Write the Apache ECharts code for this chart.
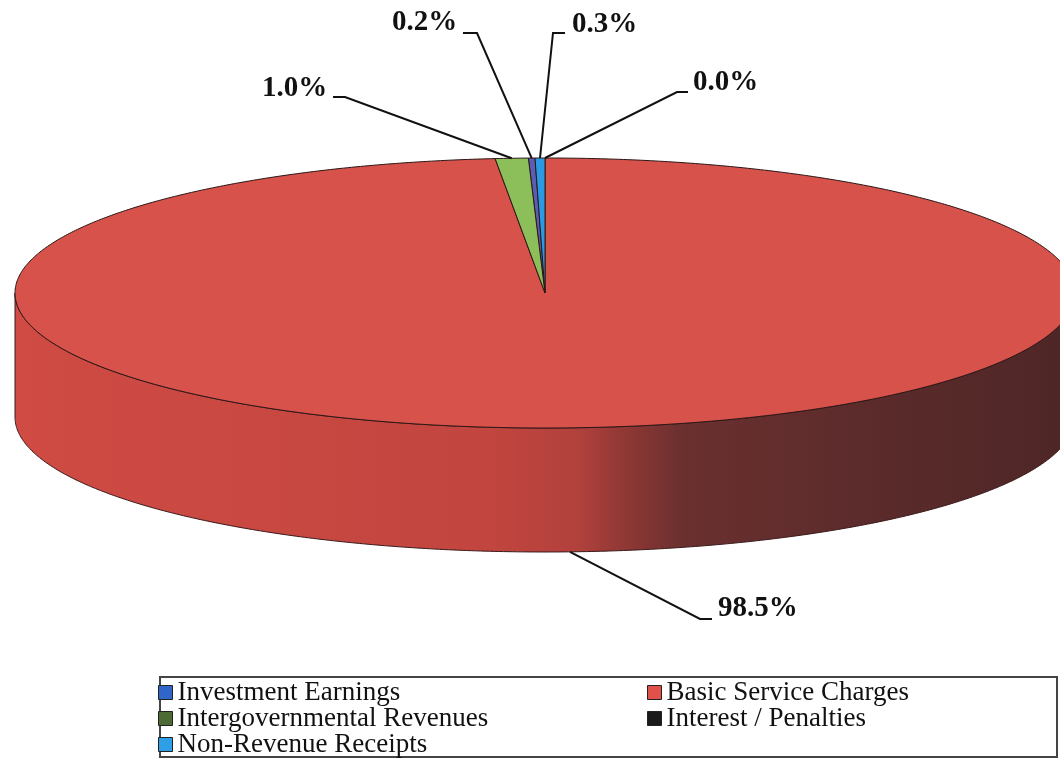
<!DOCTYPE html>
<html><head><meta charset="utf-8">
<script src="https://cdn.jsdelivr.net/npm/echarts@6/dist/echarts.min.js"></script>
<style>html,body{margin:0;padding:0;background:#fff}#c{width:1060px;height:760px}</style>
</head><body><div id="c"></div>
<script>
// ---- data ----
const categories = ['Investment Earnings', 'Basic Service Charges', 'Intergovernmental Revenues', 'Interest / Penalties', 'Non-Revenue Receipts'];
const values = [0.2, 98.5, 1.0, 0.0, 0.3];
// clockwise drawing order from 12 o'clock
const sliceOrder = [1, 2, 0, 4, 3];

// ---- styles ----
const sliceColors = ['#5A5DB4', '#D7524A', '#8CBE5A', '#111111', '#2A9BE2'];
const legendColors = ['#2F66C8', '#E0514B', '#4E6B35', '#1A1A1A', '#2E9FE6'];
const PIE = { cx: 545, cy: 293, rx: 530, ry: 135, depth: 124 };
// label placement: text left x, text middle y, horizontal leader from hx0 to hx1 at ly (hx1 = elbow)
const LABEL_POS = {
  0: { tx: 392, ty: 23, hx0: 463, hx1: 477, ly: 33 },
  1: { tx: 718, ty: 609, hx0: 712, hx1: 700, ly: 619 },
  2: { tx: 262, ty: 89, hx0: 333, hx1: 345, ly: 97 },
  3: { tx: 693, ty: 83, hx0: 688, hx1: 677, ly: 92 },
  4: { tx: 572, ty: 25, hx0: 565, hx1: 553, ly: 33 }
};
// legend placement (column left, row middle y) per category
const LEGEND_POS = {
  0: { left: 158, y: 692 },
  2: { left: 158, y: 718 },
  4: { left: 158, y: 744 },
  1: { left: 647, y: 692 },
  3: { left: 647, y: 718 }
};

const total = values.reduce((a, b) => a + b, 0);
const startPct = {};
(function () { let acc = 0; sliceOrder.forEach(i => { startPct[i] = acc; acc += values[i]; }); })();

function pt(deg, dy) {
  const r = deg * Math.PI / 180;
  return [PIE.cx + PIE.rx * Math.sin(r), PIE.cy - PIE.ry * Math.cos(r) + (dy || 0)];
}
function arc(a, b, dy) {
  const pts = [];
  const n = Math.max(2, Math.ceil(Math.abs(b - a) / 0.5));
  for (let k = 0; k <= n; k++) pts.push(pt(a + (b - a) * k / n, dy));
  return pts;
}

const sideGradient = new echarts.graphic.LinearGradient(15, 0, 1075, 0, [
  { offset: 0, color: '#CF4B44' },
  { offset: 0.45, color: '#C2453F' },
  { offset: 0.53, color: '#B2413C' },
  { offset: 0.58, color: '#8C3734' },
  { offset: 0.63, color: '#6A302F' },
  { offset: 0.8, color: '#5C2B2B' },
  { offset: 1, color: '#4E2626' }
], true);

function makeRender(idx) {
  return function (params, api) {
    const v = api.value(0);
    const t0 = startPct[idx] / total * 360;
    const t1 = (startPct[idx] + v) / total * 360;
    const children = [];
    // side wall (front half only)
    const a = Math.max(t0, 90), b = Math.min(t1, 270);
    if (a < b) {
      const top = arc(a, b, 0);
      const bot = arc(b, a, PIE.depth);
      children.push({
        type: 'polygon', shape: { points: top.concat(bot) },
        style: { fill: idx === 1 ? sideGradient : sliceColors[idx], stroke: '#3A1A1A', lineWidth: 1 }
      });
    }
    if (t1 > t0) {
      children.push({
        type: 'polygon', shape: { points: [[PIE.cx, PIE.cy]].concat(arc(t0, t1, 0)) },
        style: { fill: sliceColors[idx], stroke: '#2A1616', lineWidth: 1 }
      });
    }
    // label + leader
    const mid = (t0 + t1) / 2;
    const front = Math.cos(mid * Math.PI / 180) < 0;
    const anchor = pt(mid, front ? PIE.depth : 0);
    const L = LABEL_POS[idx];
    children.push({
      type: 'polyline', z2: 100,
      shape: { points: [[L.hx0, L.ly], [L.hx1, L.ly], anchor] },
      style: { stroke: '#111', lineWidth: 2, fill: null }
    });
    children.push({
      type: 'text', z2: 101,
      style: {
        text: v.toFixed(1) + '%', x: L.tx, y: L.ty,
        font: 'bold 29px "Liberation Serif", "Times New Roman", serif',
        fill: '#111', align: 'left', verticalAlign: 'middle'
      }
    });
    return { type: 'group', children: children };
  };
}

const series = categories.map((name, i) => ({
  type: 'custom', name: name, coordinateSystem: 'none',
  itemStyle: { color: legendColors[i] },
  data: [{ name: name, value: values[i] }],
  renderItem: makeRender(i),
  silent: true, animation: false
}));

const legendText = { fontFamily: '"Liberation Serif", "Times New Roman", serif', fontSize: 27, color: '#111', lineHeight: 26 };
const legends = categories.map((name, i) => ({
  orient: 'horizontal', left: LEGEND_POS[i].left, top: LEGEND_POS[i].y - 13, padding: 0,
  itemWidth: 14, itemHeight: 14, itemGap: 0, icon: 'rect', selectedMode: false, textStyle: legendText,
  data: [{ name: name, itemStyle: { color: legendColors[i], borderColor: '#222', borderWidth: 1 } }]
}));

const chart = echarts.init(document.getElementById('c'), null, { renderer: 'canvas' });
chart.setOption({
  backgroundColor: '#fff',
  animation: false,
  graphic: [{
    type: 'rect', z: -10, silent: true,
    shape: { x: 160, y: 677, width: 897, height: 80 },
    style: { fill: '#fff', stroke: '#444', lineWidth: 2 }
  }],
  legend: legends,
  series: series
});
</script></body></html>
